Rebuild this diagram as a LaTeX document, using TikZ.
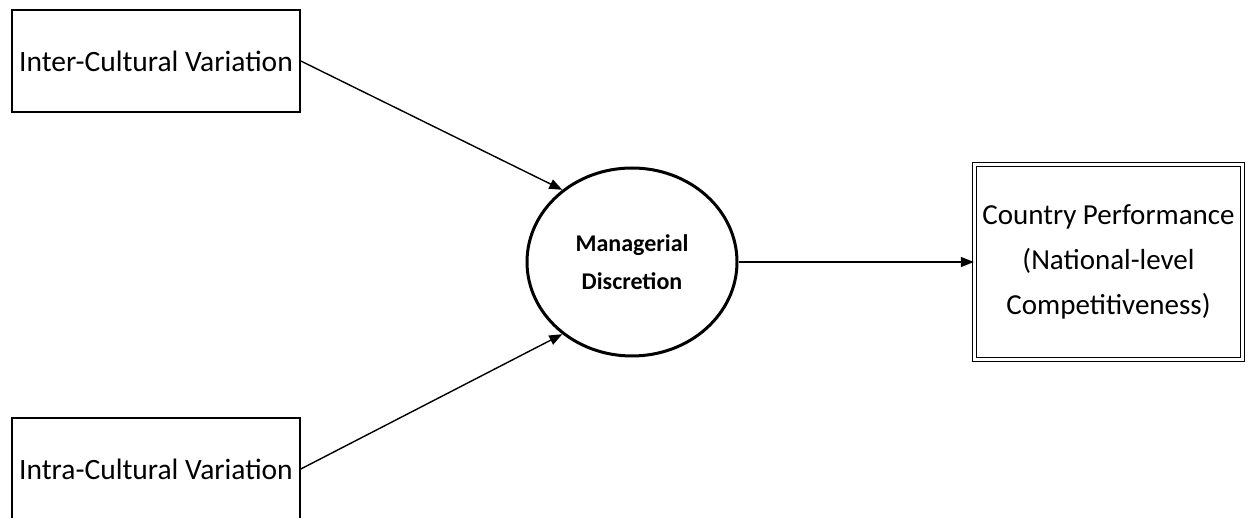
\documentclass[tikz,border=0pt]{standalone}
\usepackage{fontspec}
\setmainfont{Carlito}
\usetikzlibrary{shapes.geometric,arrows.meta}
\begin{document}
\begin{tikzpicture}[x=1pt,y=-1pt,
  box/.style={draw,line width=1.6pt,minimum width=288pt,minimum height=102pt,inner sep=0pt,font=\fontsize{29.5}{34}\selectfont},
  arr/.style={-{Triangle[length=13pt,width=10pt]},line width=1.4pt}]
\useasboundingbox (0,0) rectangle (1250,518);
\clip (0,0) rectangle (1250,518);
\fill[white] (0,0) rectangle (1250,518);
\node[box] (inter) at (156,61) {Inter-Cultural Variation};
\node[box] (intra) at (156,469) {Intra-Cultural Variation};
\node[draw,ellipse,line width=3pt,minimum width=210pt,minimum height=188pt,inner sep=0pt,align=center,font=\bfseries\fontsize{24}{38}\selectfont] (md) at (632,262) {Managerial\\Discretion};
\node[draw,double,double distance=3pt,line width=1.3pt,minimum width=268pt,minimum height=195pt,inner sep=0pt,align=center,font=\fontsize{29}{45}\selectfont] (cp) at (1108.5,262) {Country Performance\\(National-level\\Competitiveness)};
\draw[arr] (inter.east) -- (md.134);
\draw[arr] (intra.east) -- (md.226);
\draw[arr] (md.east) -- (cp.west);
\end{tikzpicture}
\end{document}
